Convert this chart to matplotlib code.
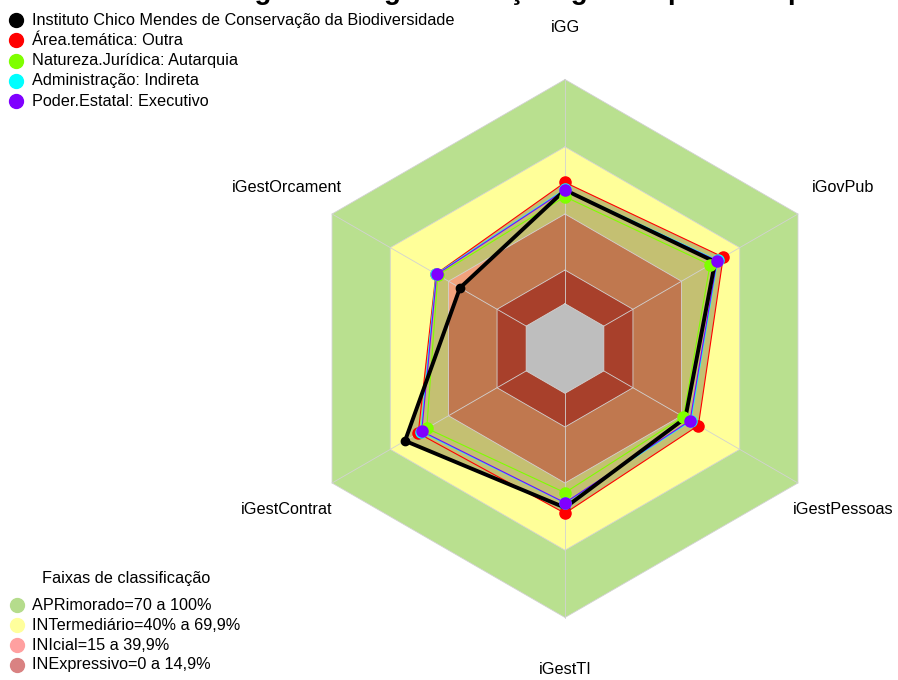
import numpy as np
import matplotlib
matplotlib.use('Agg')
import matplotlib.pyplot as plt
from matplotlib.patches import Polygon

plt.rcParams['font.family'] = ['Liberation Sans', 'DejaVu Sans']

# ── data ───────────────────────────────────────────────────────────────────────
eixos = ['iGG', 'iGovPub', 'iGestPessoas', 'iGestTI', 'iGestContrat', 'iGestOrcament']
ang_deg = [90, 30, -30, -90, -150, 150]

v_icmbio    = [50.7, 57.3, 42.0, 51.0, 62.4, 34.1]
v_area      = [54.1, 61.5, 48.7, 53.5, 55.6, 46.5]
v_natureza  = [47.7, 54.7, 41.0, 44.3, 51.2, 45.5]
v_admin     = [51.0, 58.6, 44.8, 48.9, 54.2, 46.4]
v_poder     = [50.7, 58.3, 44.4, 48.8, 53.8, 46.1]

series_names = ['Instituto Chico Mendes de Conservação da Biodiversidade',
                'Área.temática: Outra', 'Natureza.Jurídica: Autarquia',
                'Administração: Indireta', 'Poder.Estatal: Executivo']
series_vals = [v_icmbio, v_area, v_natureza, v_admin, v_poder]
series_cols = ['#000000', '#FF0000', '#7FFF00', '#00FFFF', '#8000FF']

faixas_nomes = ['APRimorado=70 a 100%', 'INTermediário=40% a 69,9%',
                'INIcial=15 a 39,9%', 'INExpressivo=0 a 14,9%']
faixas_cores = ['#B5DC8C', '#FFFF9C', '#FFA0A0', '#D98282']
faixas_lim = [100, 70, 40, 15, 0]

titulo = 'Índices gerais de governança e gestão públicas por instituição'

# ── geometry helpers ───────────────────────────────────────────────────────────
angles = np.deg2rad(ang_deg)

def to_r(v):
    return 1 / 6 + np.asarray(v, dtype=float) / 120

def xy(vals):
    r = to_r(vals)
    return np.column_stack([r * np.cos(angles), r * np.sin(angles)])

W, H = 898, 680
cx, cy, R = 565, 348.5, 269
FS = 11.7

fig = plt.figure(figsize=(W / 100, H / 100), dpi=100)
ax = fig.add_axes([0, 0, 1, 1])
ax.set_xlim(-cx / R, (W - cx) / R)
ax.set_ylim(-(H - cy) / R, cy / R)
ax.axis('off')

def px(x, y):
    return x / W, 1 - y / H

# ── bands ──────────────────────────────────────────────────────────────────────
ax.add_patch(Polygon(xy([100] * 6), closed=True, fc='#B9E08F', ec='none', zorder=1))
ax.add_patch(Polygon(xy([70] * 6), closed=True, fc='#FFFF99', ec='none', zorder=2))
# area covered by the profiles inside the yellow band
for vals in series_vals:
    ax.add_patch(Polygon(xy(vals), closed=True, fc='#C4C072', ec='none', zorder=3))
hex40 = Polygon(xy([40] * 6), closed=True, fc='#F2A27C', ec='none', zorder=4)
ax.add_patch(hex40)
brown = Polygon(xy(v_icmbio), closed=True, fc='#C0784F', ec='none', zorder=5)
ax.add_patch(brown)
brown.set_clip_path(hex40)
ax.add_patch(Polygon(xy([15] * 6), closed=True, fc='#A8402B', ec='none', zorder=6))
ax.add_patch(Polygon(xy([0] * 6), closed=True, fc='#BEBEBE', ec='none', zorder=7))

# grid
for lv in faixas_lim:
    p = xy([lv] * 6)
    p = np.vstack([p, p[:1]])
    ax.plot(p[:, 0], p[:, 1], color='#D2D2D2', lw=0.6, zorder=8)
inner, outer = xy([0] * 6), xy([100] * 6)
for a, b in zip(inner, outer):
    ax.plot([a[0], b[0]], [a[1], b[1]], color='#D2D2D2', lw=0.6, zorder=8)

# ── profiles ───────────────────────────────────────────────────────────────────
for i, (vals, col) in enumerate(zip(series_vals, series_cols)):
    p = xy(vals)
    pc = np.vstack([p, p[:1]])
    ax.plot(pc[:, 0], pc[:, 1], color=col, lw=2.8 if i == 0 else 0.8,
            zorder=12 if i == 0 else 10)
for i, (vals, col) in enumerate(zip(series_vals, series_cols)):
    p = xy(vals)
    ax.plot(p[:, 0], p[:, 1], 'o', color=col, ms=6 if i == 0 else 8,
            mec=col, zorder=13 + i)

# axis labels
for name, a in zip(eixos, angles):
    ax.text(1.195 * np.cos(a), 1.195 * np.sin(a), name, ha='center', va='center',
            fontsize=FS, zorder=20)

# ── legends ────────────────────────────────────────────────────────────────────
for k, (name, col) in enumerate(zip(series_names, series_cols)):
    y = 20 + k * 20.3
    fig.text(*px(32, y), name, ha='left', va='center', fontsize=FS)
    fig.add_artist(plt.Line2D([16 / W], [1 - y / H], marker='o', ms=10, color=col,
                              transform=fig.transFigure))

fig.text(*px(42, 579), 'Faixas de classificação', ha='left', va='center', fontsize=FS)
for k, (name, col) in enumerate(zip(faixas_nomes, faixas_cores)):
    y = 605 + k * 20
    fig.text(*px(32, y), name, ha='left', va='center', fontsize=FS)
    fig.add_artist(plt.Line2D([17 / W], [1 - y / H], marker='o', ms=10, color=col,
                              transform=fig.transFigure))

# title sits mostly above the canvas, only descenders show (as in the source)
fig.text(565 / W, 1 + 1 / H, titulo, ha='center', va='baseline', fontsize=20,
         fontweight='bold')

fig.savefig('out.png', dpi=100)
